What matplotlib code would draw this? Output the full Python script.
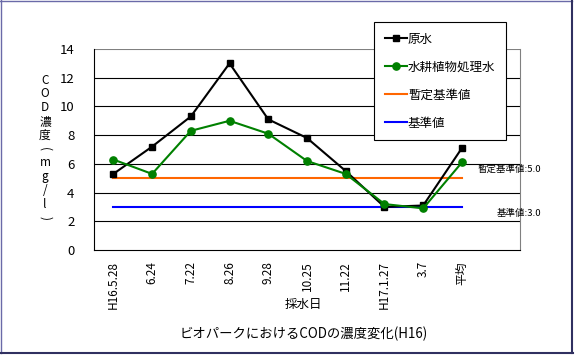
import matplotlib
matplotlib.use("Agg")
import matplotlib.pyplot as plt
from matplotlib.lines import Line2D

plt.rcParams['font.family'] = ['Noto Sans CJK JP', 'DejaVu Sans']

categories = ["H16.5.28", "6.24", "7.22", "8.26", "9.28", "10.25", "11.22", "H17.1.27", "3.7", "平均", ""]
raw_water = [5.3, 7.2, 9.3, 13.0, 9.1, 7.8, 5.5, 3.0, 3.1, 7.1]
treated_water = [6.3, 5.3, 8.3, 9.0, 8.1, 6.2, 5.3, 3.2, 2.9, 6.1]
provisional_std = 5.0
standard = 3.0
yticks = [0, 2, 4, 6, 8, 10, 12, 14]

W, H = 575, 355
fig = plt.figure(figsize=(W / 100, H / 100), dpi=100)
fig.patch.set_facecolor("white")

def fx(px):
    return px / W

def fy(py):
    return 1 - py / H

ax = fig.add_axes([fx(94), fy(250), fx(520) - fx(94), fy(49) - fy(250)])
n = len(categories)
x_all = list(range(n))
x_data = x_all[:len(raw_water)]

ax.set_xlim(-0.5, n - 0.5)
ax.set_ylim(0, 14)
ax.set_yticks(yticks)
ax.set_yticklabels([str(v) for v in yticks], fontsize=9.5)
for v in yticks[1:-1]:
    ax.axhline(v, color="black", lw=0.8, zorder=1)
ax.axhline(14, color="#808080", lw=0.8, zorder=1)

ax.set_xticks(x_all)
ax.set_xticklabels(categories, rotation=90, fontsize=8.5, va="top", ha="center")
ax.tick_params(axis="both", length=0)
ax.tick_params(axis="x", pad=8)
ax.tick_params(axis="y", pad=14)

for s in ["top", "right"]:
    ax.spines[s].set_color("#808080")
    ax.spines[s].set_linewidth(0.8)
for s in ["left", "bottom"]:
    ax.spines[s].set_color("black")
    ax.spines[s].set_linewidth(0.8)
ax.spines["top"].set_visible(False)

l1, = ax.plot(x_data, raw_water, color="black", lw=1.5, marker="s", markersize=4.3, zorder=4, label="原水")
l2, = ax.plot(x_data, treated_water, color="#008000", lw=1.5, marker="o", markersize=5.2, zorder=5, label="水耕植物処理水")
l3, = ax.plot([x_data[0], x_data[-1]], [provisional_std] * 2, color="#FF6600", lw=1.5, zorder=3, label="暫定基準値")
l4, = ax.plot([x_data[0], x_data[-1]], [standard] * 2, color="#0000FF", lw=1.5, zorder=3, label="基準値")

ax.annotate(f"暫定基準値:{provisional_std:.1f}", xy=(n - 1, provisional_std), xytext=(29, 6.5),
            textcoords="offset points", ha="right", va="center", fontsize=6.8, annotation_clip=False)
ax.annotate(f"基準値:{standard:.1f}", xy=(n - 1, standard), xytext=(29, -4.5),
            textcoords="offset points", ha="right", va="center", fontsize=6.8, annotation_clip=False)

leg = fig.legend(handles=[l1, l2, l3, l4], loc="upper left", bbox_to_anchor=(fx(374), fy(22)),
                 fontsize=9, frameon=True, fancybox=False, edgecolor="black", framealpha=1,
                 labelspacing=1.2, handlelength=1.75, handletextpad=0.12, borderpad=0.85,
                 borderaxespad=0)
leg.get_frame().set_linewidth(0.8)
leg.set_zorder(10)

# stacked vertical y-label
ylab_chars = ["C", "O", "D", "濃", "度", "(", "m", "g", "/", "l", ")"]
rot_chars = {"(", ")"}
y0, y1 = 80, 218
for i, ch in enumerate(ylab_chars):
    py = y0 + (y1 - y0) * i / (len(ylab_chars) - 1)
    fig.text(fx(45), fy(py), ch, ha="center", va="center", fontsize=8.5,
             rotation=-90 if ch in rot_chars else 0, rotation_mode="anchor")

fig.text(fx(303), fy(304), "採水日", ha="center", va="center", fontsize=9)
fig.text(fx(304), fy(334), "ビオパークにおけるCODの濃度変化(H16)", ha="center", va="center", fontsize=9.6)

# outer border
fig.add_artist(Line2D([fx(0.5), fx(0.5)], [fy(0), fy(353)], color="#6a6aa8", lw=1.0, transform=fig.transFigure))
fig.add_artist(Line2D([fx(0), fx(572)], [fy(0.5), fy(0.5)], color="#6a6aa8", lw=1.0, transform=fig.transFigure))
fig.add_artist(Line2D([fx(572), fx(572)], [fy(0), fy(353)], color="#303060", lw=1.5, transform=fig.transFigure))
fig.add_artist(Line2D([fx(0), fx(573)], [fy(352.5), fy(352.5)], color="#303060", lw=1.5, transform=fig.transFigure))

fig.savefig("out.png", dpi=100, facecolor="white")
